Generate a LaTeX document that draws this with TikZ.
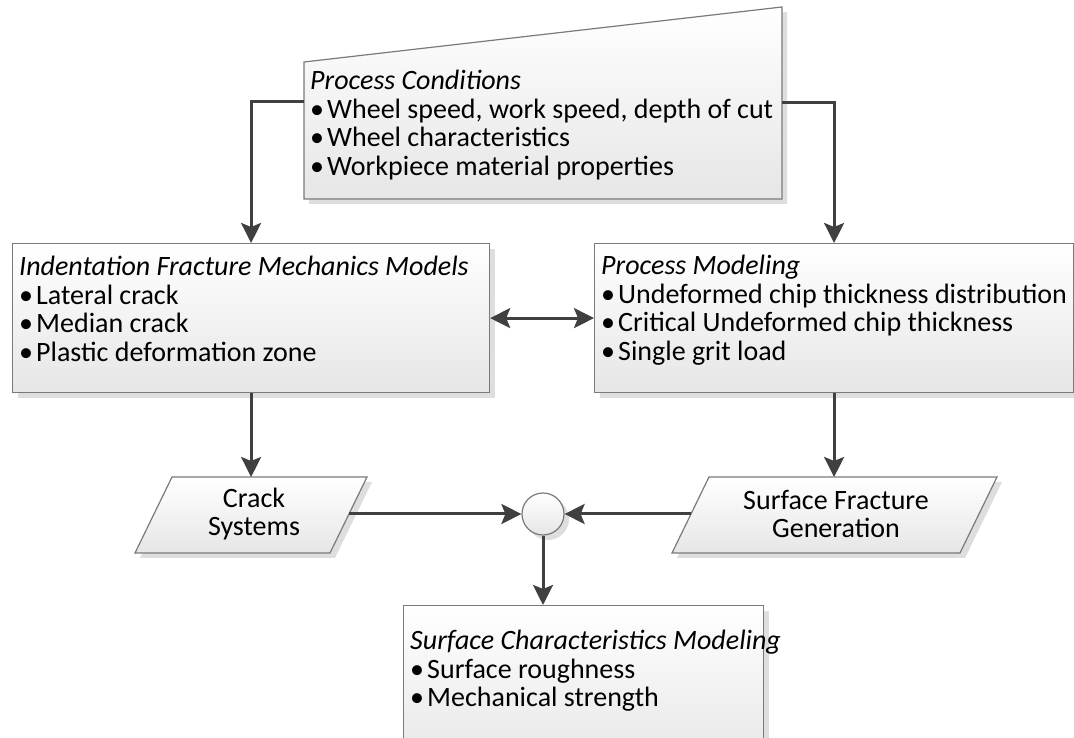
\documentclass[tikz,border=0pt]{standalone}
\usepackage{fontspec}
\setmainfont{Carlito}
\usetikzlibrary{arrows.meta,shadows}
\definecolor{lineC}{HTML}{404040}
\definecolor{borderC}{HTML}{7A7A7A}
\definecolor{shadeC}{HTML}{E6E6E6}
\definecolor{shadowC}{HTML}{DEDEDE}
\newcommand{\bul}{\makebox[17pt][l]{•}}
\newcommand{\txtblock}[1]{\parbox[t]{520pt}{\fontsize{28}{28.5}\selectfont #1}}
\begin{document}
\begin{tikzpicture}[x=1pt,y=1pt,
  boxshape/.style={draw=borderC, line width=1.2pt, top color=white, bottom color=shadeC,
    drop shadow={shadow xshift=5pt, shadow yshift=-5pt, fill=shadowC, opacity=1}},
  rectbox/.style={boxshape, rectangle, anchor=north west, inner sep=0pt},
  txt/.style={anchor=base west, inner sep=0pt},
  ctxt/.style={align=center, inner sep=0pt, font=\fontsize{28}{28.5}\selectfont},
  tipS/.tip={Stealth[length=20pt,width=20pt,inset=4pt]},
  conn/.style={draw=lineC, line width=3pt, -tipS}]
\useasboundingbox (0,0) rectangle (1074,738);

% shapes
\path[boxshape] (304,539) -- (304,676) -- (782,731) -- (782,539) -- cycle;
\node[rectbox, minimum width=477pt, minimum height=149pt] (lbox) at (12,495) {};
\node[rectbox, minimum width=479pt, minimum height=149pt] (rbox) at (594,495) {};
\path[boxshape] (135,185) -- (172,261) -- (367,261) -- (330,185) -- cycle;
\path[boxshape] (672,185) -- (709,261) -- (997,261) -- (960,185) -- cycle;
\node[boxshape, circle, minimum size=42pt, inner sep=0pt] (sum) at (543,224) {};
\node[rectbox, minimum width=360pt, minimum height=160pt] (bbox) at (403,133) {};

% texts
\node[txt] (pctext) at (310,648) {\txtblock{\textit{Process Conditions}\\
  \bul Wheel speed, work speed, depth of cut\\
  \bul Wheel characteristics\\
  \bul Workpiece material properties}};
\node[txt] (ltext) at (19,462) {\txtblock{\textit{Indentation Fracture Mechanics Models}\\
  \bul Lateral crack\\
  \bul Median crack\\
  \bul Plastic deformation zone}};
\node[txt] (rtext) at (601,463) {\txtblock{\textit{Process Modeling}\\
  \bul Undeformed chip thickness distribution\\
  \bul Critical Undeformed chip thickness\\
  \bul Single grit load}};
\node[txt] (btext) at (410,88) {\txtblock{\textit{Surface Characteristics Modeling}\\
  \bul Surface roughness\\
  \bul Mechanical strength}};
\node[ctxt] (lpartext) at (254,224) {Crack\\Systems};
\node[ctxt] (rpartext) at (836,224) {Surface Fracture\\Generation};

% connector end points
\coordinate (pcL) at (304,636);
\coordinate (pcR) at (782,635);
\coordinate (lparT) at (172,261);
\coordinate (rparT) at (709,261);
\coordinate (lparR) at (349,224);
\coordinate (rparL) at (691,224);

% connectors
\draw[conn] (pcL) -| (lbox.north);
\draw[conn] (pcR) -| (rbox.north);
\draw[conn, tipS-tipS] (lbox.east) -- (rbox.west);
\draw[conn] (lbox.south) -- (lbox.south |- lparT);
\draw[conn] (rbox.south) -- (rbox.south |- rparT);
\draw[conn] (lparR) -- (sum.west);
\draw[conn] (rparL) -- (sum.east);
\draw[conn] (sum.south) -- (sum.south |- bbox.north);
\end{tikzpicture}
\end{document}
